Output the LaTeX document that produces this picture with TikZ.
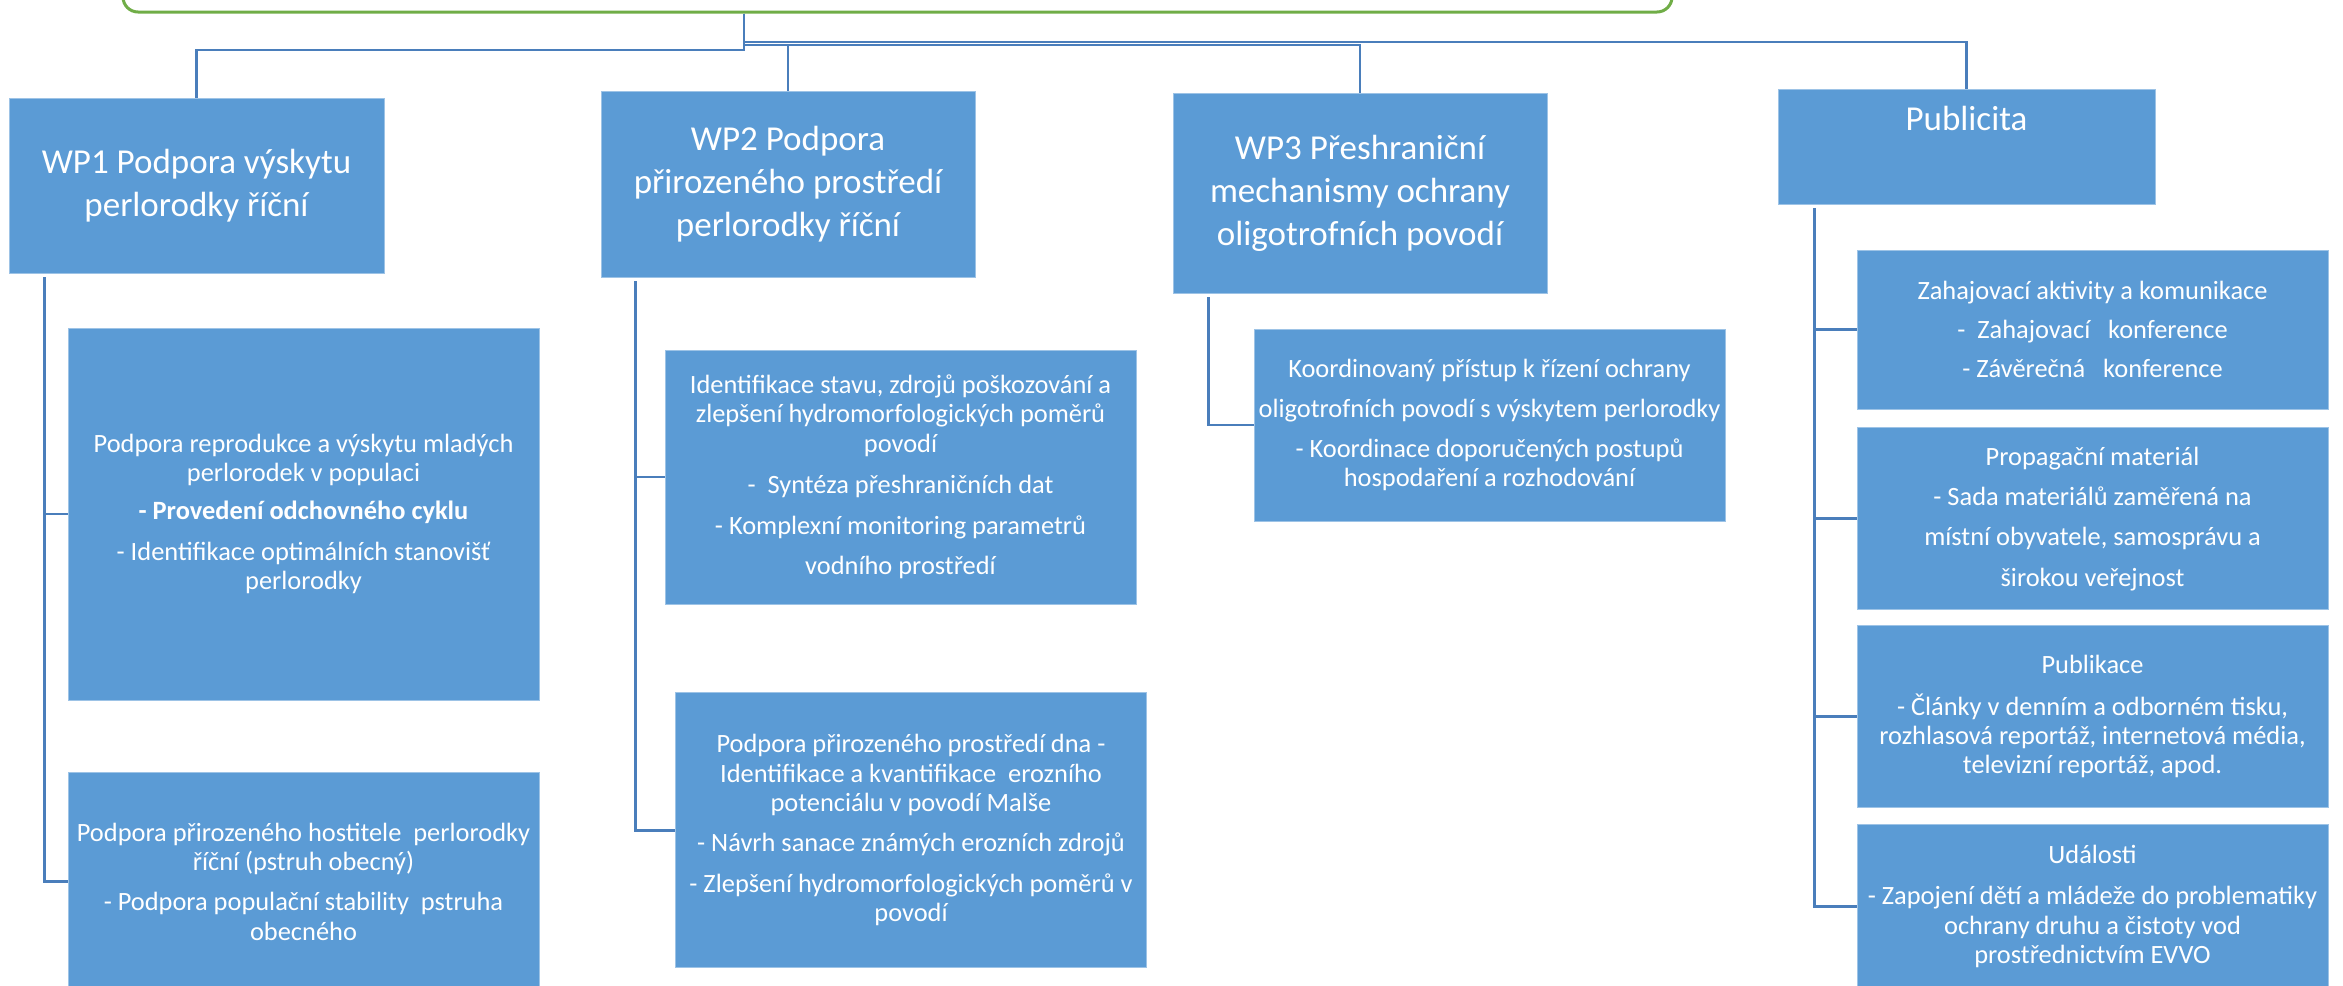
\documentclass[tikz,border=0pt]{standalone}
\usepackage{fontspec}
\setmainfont{Carlito}
\usetikzlibrary{positioning, calc}

\definecolor{boxblue}{HTML}{5B9BD5}
\definecolor{linkblue}{HTML}{4A7EBB}
\definecolor{rootgreen}{HTML}{70AD47}

\begin{document}
\begin{tikzpicture}[x=0.5pt, y=-0.5pt]
  \tikzstyle{wp}=[fill=boxblue, draw=boxblue!60!white, line width=0.4pt, text=white, align=center, inner sep=1pt, font=\fontsize{17.5}{21.5}\selectfont]
  \tikzstyle{task}=[fill=boxblue, draw=boxblue!60!white, line width=0.4pt, text=white, align=center, inner sep=1pt, minimum width=235.5pt, font=\fontsize{13.2}{14.6}\selectfont]
  \tikzstyle{conn}=[draw=linkblue, line width=1.4pt]

  \useasboundingbox (0,0) rectangle (2343,985);

  % Top node, only its lower edge is visible
  \node[draw=rootgreen, line width=1.5pt, rounded corners=7.5pt, fill=white, minimum width=774.5pt, minimum height=106pt] (root) at (897.5,-94) {};

  % Work packages
  \node[wp, minimum width=187.5pt, minimum height=87.5pt] (wp1) at (196.5,185.5) {WP1 Podpora výskytu\\perlorodky říční};
  \node[wp, minimum width=187pt, minimum height=93pt] (wp2) at (788,184) {WP2 Podpora\\přirozeného prostředí\\perlorodky říční};
  \node[wp, minimum width=187pt, minimum height=100pt] (wp3) at (1360,193) {WP3 Přeshraniční\\mechanismy ochrany\\oligotrofních povodí};
  \node[wp, minimum width=188.5pt, minimum height=57.5pt] (pub) at (1966.5,146.5) {};
  \node[wp, fill=none, draw=none, anchor=base] (pubtitle) at ($(pub.north)+(0,42)$) {Publicita};

  \coordinate (hub) at ($(root.south)+(-153.5,0)$);
  \coordinate (bus1) at (744,50);
  \coordinate (bus2) at (744,45);
  \coordinate (bus3) at (744,42);
  \draw[conn] (hub) -- (bus1) -| (wp1.north);
  \draw[conn] (hub) -- (bus2) -| (wp2.north);
  \draw[conn] (bus2) -| (wp3.north);
  \draw[conn] (hub) -- (bus3) -| (pub.north);

  % WP1
  \node[task, minimum height=186pt] (wp1a) at (303.5,514) {Podpora reprodukce a výskytu mladých\\perlorodek v populaci\\[4pt]\textbf{- Provedení odchovného cyklu}\\[6pt]- Identifikace optimálních stanovišť\\perlorodky};
  \node[task, minimum height=109pt, below=36pt of wp1a] (wp1b) {Podpora přirozeného hostitele~~perlorodky\\říční (pstruh obecný)\\[5.5pt]- Podpora populační stability~~pstruha\\obecného};

  % WP2
  \node[task, minimum height=127pt] (wp2a) at (900.5,477) {Identifikace stavu, zdrojů poškozování a\\zlepšení hydromorfologických poměrů\\povodí\\[6pt]-~~Syntéza přeshraničních dat\\[6pt]- Komplexní monitoring parametrů\\[5.5pt]vodního prostředí};
  \node[task, minimum height=137.5pt, below=44pt of wp2a, xshift=5.25pt] (wp2b) {Podpora přirozeného prostředí dna -\\Identifikace a kvantifikace~~erozního\\potenciálu v povodí Malše\\[5.5pt]- Návrh sanace známých erozních zdrojů\\[6pt]- Zlepšení hydromorfologických poměrů v\\povodí};

  % WP3
  \node[task, minimum height=96pt] (wp3a) at (1489.5,425) {Koordinovaný přístup k řízení ochrany\\[5.5pt]oligotrofních povodí s výskytem perlorodky\\[5.5pt]- Koordinace doporučených postupů\\hospodaření a rozhodování};

  % Publicita
  \node[task, minimum height=79.5pt] (pub1) at (2092.5,329.5) {Zahajovací aktivity a komunikace\\[5pt]-~~Zahajovací~~~konference\\[5pt]- Závěrečná~~~konference};
  \node[task, minimum height=91pt, below=9pt of pub1] (pub2) {Propagační materiál\\[5.5pt]- Sada materiálů zaměřená na\\[5.5pt]místní obyvatele, samosprávu a\\[5.5pt]širokou veřejnost};
  \node[task, minimum height=91pt, below=7.5pt of pub2] (pub3) {Publikace\\[6pt]- Články v denním a odborném tisku,\\rozhlasová reportáž, internetová média,\\televizní reportáž, apod.};
  \node[task, minimum height=82pt, below=8pt of pub3] (pub4) {Události\\[6pt]- Zapojení dětí a mládeže do problematiky\\ochrany druhu a čistoty vod\\prostřednictvím EVVO};

  \draw[conn] ($(wp1.south west)+(36,4)$) |- (wp1a.west);
  \draw[conn] ($(wp1.south west)+(36,4)$) |- (wp1b.west);
  \draw[conn] ($(wp2.south west)+(35,4)$) |- (wp2a.west);
  \draw[conn] ($(wp2.south west)+(35,4)$) |- (wp2b.west);
  \draw[conn] ($(wp3.south west)+(36,4)$) |- (wp3a.west);
  \draw[conn] ($(pub.south west)+(37,4)$) |- (pub1.west);
  \draw[conn] ($(pub.south west)+(37,4)$) |- (pub2.west);
  \draw[conn] ($(pub.south west)+(37,4)$) |- (pub3.west);
  \draw[conn] ($(pub.south west)+(37,4)$) |- (pub4.west);
\end{tikzpicture}
\end{document}
